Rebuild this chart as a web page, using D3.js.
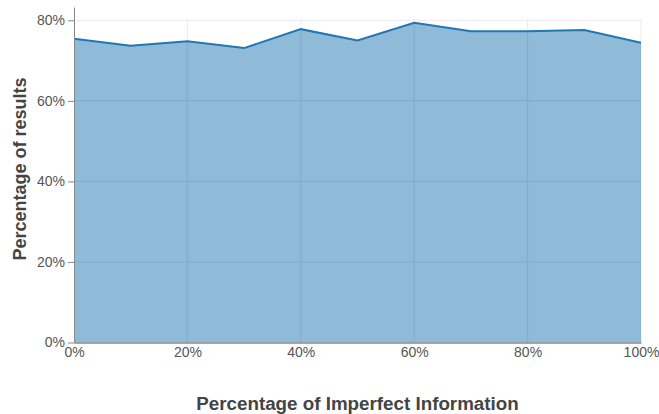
<!DOCTYPE html>
<html lang="en">
<head>
<meta charset="UTF-8">
<title>Percentage of results</title>
<script src="https://d3js.org/d3.v7.min.js"></script>
<style>
body { margin: 0; background: #fff; }
svg { font-family: "Liberation Sans", Arial, sans-serif; }
.tick text { fill: #555; font-size: 14px; }
.axis-title { fill: #444; font-weight: bold; }
.grid line { stroke: #ebebeb; stroke-width: 1; }
</style>
</head>
<body>
<svg id="chart" width="659" height="414"></svg>
<script>
// x: percentage of imperfect information, y: percentage of results
const xValues = [0, 10, 20, 30, 40, 50, 60, 70, 80, 90, 100];
const yValues = [75.4, 73.7, 74.8, 73.1, 77.8, 75.0, 79.4, 77.3, 77.3, 77.6, 74.4];
const xTicks = [0, 20, 40, 60, 80, 100];
const yTicks = [0, 20, 40, 60, 80];

const width = 659;
const height = 414;
const margin = { left: 74, right: 18, top: 7, bottom: 72 };

const svg = d3.select("#chart");

const x = d3.scaleLinear()
    .domain([0, 100])
    .range([margin.left, width - margin.right]);

const y = d3.scaleLinear()
    .domain([0, 83.3])
    .range([height - margin.bottom + 0.5, margin.top]);

const data = xValues.map((v, i) => ({ x: v, y: yValues[i] }));

// 그리드
const grid = svg.append("g").attr("class", "grid");
grid.selectAll(".h")
    .data(yTicks.slice(1))
    .enter().append("line")
    .attr("x1", x(0)).attr("x2", x(100))
    .attr("y1", d => y(d)).attr("y2", d => y(d));
grid.selectAll(".v")
    .data(xTicks.slice(1))
    .enter().append("line")
    .attr("x1", d => x(d)).attr("x2", d => x(d))
    .attr("y1", y(0)).attr("y2", margin.top + 12);

// 영역 + 선
const area = d3.area()
    .x(d => x(d.x))
    .y0(y(0))
    .y1(d => y(d.y));

const line = d3.line()
    .x(d => x(d.x))
    .y(d => y(d.y));

svg.append("path")
    .datum(data)
    .attr("d", area)
    .attr("fill", "#1f77b4")
    .attr("fill-opacity", 0.5);

// 영역 위에 희미하게 보이는 그리드
const grid2 = svg.append("g");
grid2.selectAll("line")
    .data(xTicks.slice(1, -1))
    .enter().append("line")
    .attr("x1", d => x(d)).attr("x2", d => x(d))
    .attr("y1", y(0)).attr("y2", d => y(yValues[xValues.indexOf(d)]))
    .attr("stroke", "#1f77b4").attr("stroke-opacity", 0.06);
grid2.selectAll(".hh")
    .data(yTicks.slice(1, -1))
    .enter().append("line")
    .attr("x1", x(0)).attr("x2", x(100))
    .attr("y1", d => y(d)).attr("y2", d => y(d))
    .attr("stroke", "#1f77b4").attr("stroke-opacity", 0.06);

svg.append("path")
    .datum(data)
    .attr("d", line)
    .attr("fill", "none")
    .attr("stroke", "#1f77b4")
    .attr("stroke-width", 2);

// 축
const fmt = d => d + "%";

const yAxis = svg.append("g")
    .attr("transform", `translate(${margin.left},0)`)
    .call(d3.axisLeft(y).tickValues(yTicks).tickFormat(fmt).tickSize(6).tickSizeOuter(0));
yAxis.select(".domain").attr("stroke", "#888");
yAxis.selectAll(".tick line").attr("stroke", "#888");
yAxis.selectAll(".tick text").attr("x", -9);

const xAxis = svg.append("g")
    .attr("transform", `translate(0,${y(0)})`)
    .call(d3.axisBottom(x).tickValues(xTicks).tickFormat(fmt).tickSize(0).tickSizeOuter(0));
xAxis.select(".domain").attr("stroke", "#888").attr("stroke-width", 1.5);
xAxis.selectAll(".tick text").attr("y", 5);

// 축 제목
svg.append("text")
    .attr("class", "axis-title")
    .attr("text-anchor", "middle")
    .style("font-size", "18.8px")
    .attr("x", 357.5)
    .attr("y", 410)
    .text("Percentage of Imperfect Information");

svg.append("text")
    .attr("class", "axis-title")
    .attr("text-anchor", "middle")
    .style("font-size", "18px")
    .attr("transform", `translate(26,169) rotate(-90)`)
    .text("Percentage of results");
</script>
</body>
</html>
